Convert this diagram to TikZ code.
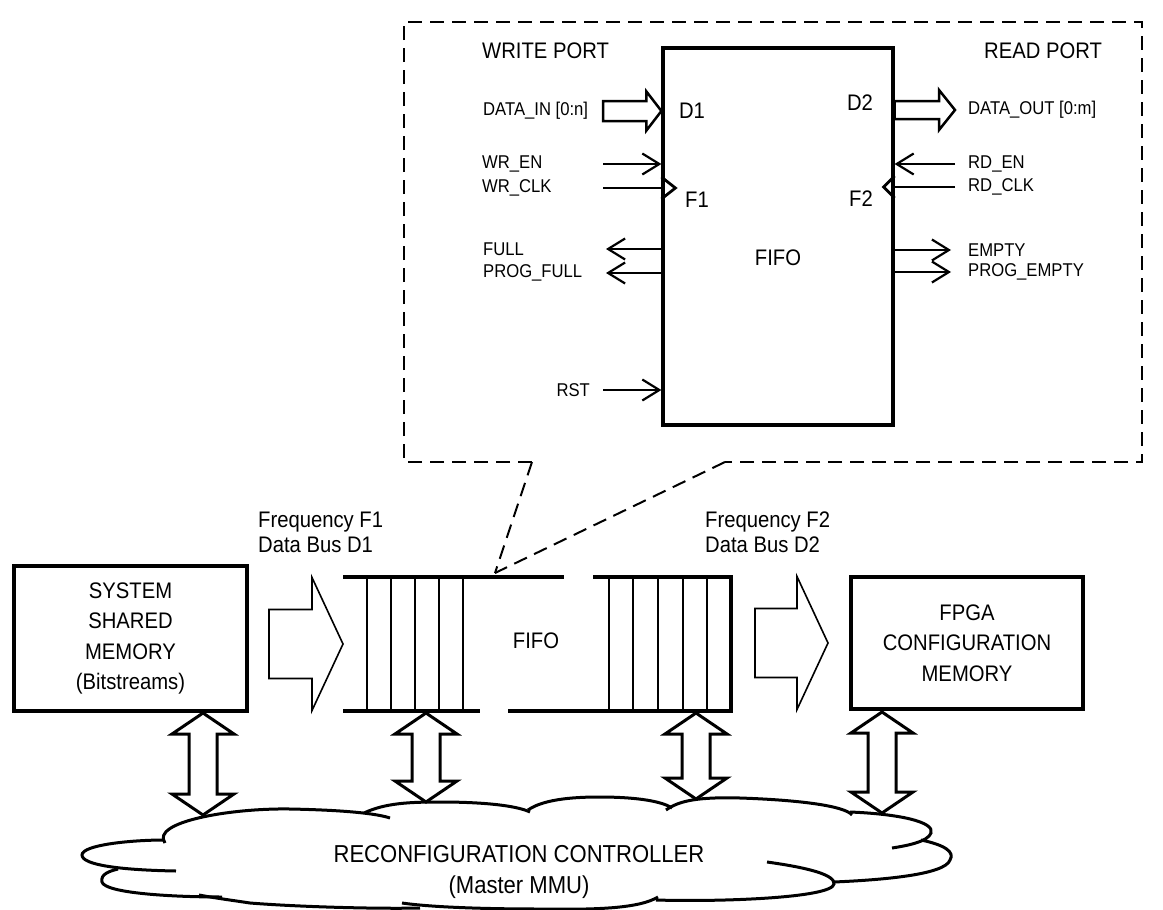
\documentclass[tikz,border=0pt]{standalone}
\usepackage{fontspec}
\setmainfont{Liberation Sans}[FakeStretch=0.9]
\usetikzlibrary{arrows.meta,calc}
\newcommand\hollowarrow[6][]{%
  \draw[#1] let \p1=(#2), \p2=(#3) in
   (\x1,\y2+#4) -- (\x2-#6,\y2+#4) -- (\x2-#6,\y2+#5) -- (\x2,\y2)
   -- (\x2-#6,\y2-#5) -- (\x2-#6,\y2-#4) -- (\x1,\y2-#4) -- cycle;}
\newcommand\dblarrow[2]{%
  \draw[dbl] let \p1=(#1), \p2=(#2) in
   (\x1,\y1) -- (\x1+31pt,\y1-21pt) -- (\x1+14pt,\y1-21pt) -- (\x1+14pt,\y2+21pt)
   -- (\x1+31pt,\y2+21pt) -- (\x1,\y2) -- (\x1-31pt,\y2+21pt) -- (\x1-14pt,\y2+21pt)
   -- (\x1-14pt,\y1-21pt) -- (\x1-31pt,\y1-21pt) -- cycle;}
\begin{document}
\begin{tikzpicture}[x=1pt,y=-1pt,
  big/.style={font=\fontsize{22.5}{30.5}\selectfont},
  sig/.style={font=\fontsize{18.5}{22}\selectfont, inner sep=0pt, anchor=west},
  memory/.style={draw, line width=3.2pt, inner sep=0pt, align=center, big},
  sigline/.style={line width=2.2pt},
  sigarrow/.style={line width=2.2pt, -{Straight Barb[length=17pt,width=21pt,line width=2.2pt]}},
  thickline/.style={line width=3.2pt},
  thinline/.style={line width=1.5pt},
  fatarrow/.style={line width=1.6pt, fill=white, line join=miter},
  busarrow/.style={line width=2.5pt, fill=white, line join=miter},
  dbl/.style={line width=3pt, fill=white, line join=miter},
  zoomline/.style={line width=2pt, dash pattern=on 14pt off 8pt},
  cloudline/.style={line width=3pt, line cap=butt},
]
\useasboundingbox (0,0) rectangle (1163,910);

% ---------- detail (dashed) ----------
\coordinate (zt) at (495,573);
\coordinate (zl) at (532,462);
\coordinate (zr) at (725,462);
\draw[zoomline] (zl) -- (404,462) -- (404,22) -- (1142,22) -- (1142,462) -- (zr);
\draw[zoomline] (zl) -- (zt);
\draw[zoomline] (zr) -- (zt);

\node[draw, line width=3.2pt, minimum width=230pt, minimum height=377pt, inner sep=0pt] (fifobox) at (778,236.5) {};
\node[big] (fifot) at (778,258) {FIFO};
\node[big] (d1) at (692,111) {D1};
\node[big] (f1) at (697,200) {F1};
\node[big] (d2) at (860,103) {D2};
\node[big] (f2) at (861,199) {F2};

\node[big, anchor=west, inner sep=0pt] (wp) at (482,51) {WRITE PORT};
\node[big, anchor=west, inner sep=0pt] (rp) at (984,51) {READ PORT};

\node[sig] (din) at (483,111) {DATA\_IN [0:n]};
\node[sig] (wren) at (482,164) {WR\_EN};
\node[sig] (wrclk) at (482,188) {WR\_CLK};
\node[sig] (full) at (483,249) {FULL};
\node[sig] (pfull) at (483,273) {PROG\_FULL};
\node[sig, anchor=east] (rst) at (590,390) {RST};

\node[sig] (dout) at (968,110) {DATA\_OUT [0:m]};
\node[sig] (rden) at (968,164) {RD\_EN};
\node[sig] (rdclk) at (968,187) {RD\_CLK};
\node[sig] (empty) at (968,250) {EMPTY};
\node[sig] (pempty) at (968,272) {PROG\_EMPTY};

\coordinate (lx) at (603,0);
\coordinate (lx2) at (606,0);
\coordinate (rx) at (955,0);
\coordinate (rx2) at (951,0);

\hollowarrow[busarrow]{lx |- din}{fifobox.west |- din}{10pt}{19.5pt}{15pt}
\draw[sigarrow] (lx |- wren) -- (fifobox.west |- wren);
\draw[sigline] (lx |- wrclk) -- (fifobox.west |- wrclk);
\draw[sigline, line width=2.8pt, line join=miter] ($(fifobox.west |- wrclk)+(0,-11)$) -- ++(14,11) -- ++(-14,11);
\draw[sigarrow] (fifobox.west |- full) -- (lx2 |- full);
\draw[sigarrow] (fifobox.west |- pfull) -- (lx2 |- pfull);
\draw[sigarrow] (lx |- rst) -- (fifobox.west |- rst);

\hollowarrow[busarrow]{fifobox.east |- dout}{rx |- dout}{9pt}{20pt}{16pt}
\draw[sigarrow] (rx |- rden) -- (fifobox.east |- rden);
\draw[sigline] (rx |- rdclk) -- (fifobox.east |- rdclk);
\draw[sigline, line width=2.8pt, line join=miter] ($(fifobox.east |- rdclk)+(0,-11)$) -- ++(-11,11) -- ++(11,11);
\draw[sigarrow] (fifobox.east |- empty) -- (rx2 |- empty);
\draw[sigarrow] (fifobox.east |- pempty) -- (rx2 |- pempty);

% ---------- system level ----------
\node[memory, minimum width=233pt, minimum height=145pt] (sys) at (130.5,638.5)
  {SYSTEM\\SHARED\\MEMORY\\(Bitstreams)};
\node[memory, minimum width=232pt, minimum height=132pt] (fpga) at (967,643)
  {FPGA\\CONFIGURATION\\MEMORY};

\node[big, anchor=west, align=left, inner sep=0pt, font=\fontsize{22.5}{25}\selectfont] (fr1) at (258,532) {Frequency F1\\Data Bus D1};
\node[big, anchor=west, align=left, inner sep=0pt, font=\fontsize{22.5}{25}\selectfont] (fr2) at (705,532) {Frequency F2\\Data Bus D2};

% FIFO queue
\coordinate (qtl) at (343,577);
\coordinate (qbl) at (343,711);
\draw[thickline] (qtl) -- (564,577);
\draw[thickline] (qbl) -- (480,711);
\draw[thickline] (593,577) -- (731,577) -- (731,711) -- (508,711);
\foreach \x in {367,391,415,439,463,609,633,658,683,707}
  \draw[thinline] (\x,577) -- (\x,711);
\node[big] (fifoq) at (536,641) {FIFO};

\coordinate (a1s) at (269,644);
\coordinate (a1t) at (343,644);
\hollowarrow[fatarrow]{a1s}{a1t}{34.5pt}{66.5pt}{31pt}
\coordinate (a2s) at (755,643);
\coordinate (a2t) at (828,643);
\hollowarrow[fatarrow]{a2s}{a2t}{34.5pt}{66.5pt}{31pt}

% bidirectional bus arrows
\coordinate (b1t) at (203,713); \coordinate (b1b) at (203,815);
\coordinate (b2t) at (426,713); \coordinate (b2b) at (426,802);
\coordinate (b3t) at (696,713); \coordinate (b3b) at (696,799);
\coordinate (b4t) at (882,712); \coordinate (b4b) at (882,813);
\dblarrow{b1t}{b1b}
\dblarrow{b2t}{b2b}
\dblarrow{b3t}{b3b}
\dblarrow{b4t}{b4b}

% cloud
\draw[cloudline] (165,843) .. controls (150,822) and (230,808) .. (290,809) .. controls (340,810) and (375,813) .. (390,818);
\draw[cloudline] (364,813) .. controls (385,803) and (410,802) .. (440,802) .. controls (480,802) and (515,805) .. (530,812);
\draw[cloudline] (528,810) .. controls (545,798) and (580,797) .. (600,797) .. controls (630,797) and (660,800) .. (672,808);
\draw[cloudline] (666,810) .. controls (680,800) and (700,797) .. (740,798) .. controls (800,800) and (845,806) .. (852,815);
\draw[cloudline] (850,812) .. controls (900,814) and (935,822) .. (931,833) .. controls (928,842) and (905,846) .. (892,848);
\draw[cloudline] (921,840) .. controls (945,845) and (955,852) .. (950,860) .. controls (945,875) and (880,880) .. (834,882);
\draw[cloudline] (767,862) .. controls (810,868) and (835,875) .. (834,884) .. controls (832,898) and (720,902) .. (656,900);
\draw[cloudline] (658,897) .. controls (640,908) and (600,910) .. (540,909) .. controls (480,909) and (430,907) .. (402,903);
\draw[cloudline] (420,908) .. controls (380,909) and (300,907) .. (250,903) .. controls (230,900) and (215,898) .. (199,895);
\draw[cloudline] (222,897) .. controls (170,897) and (105,893) .. (102,882) .. controls (100,874) and (110,871) .. (118,869);
\draw[cloudline] (176,871) .. controls (120,870) and (82,865) .. (82,855) .. controls (82,845) and (130,840) .. (165,840);
\node[align=center, font=\fontsize{24.5}{31}\selectfont] (ctrl) at (519,872) {RECONFIGURATION CONTROLLER\\(Master MMU)};
\end{tikzpicture}
\end{document}
